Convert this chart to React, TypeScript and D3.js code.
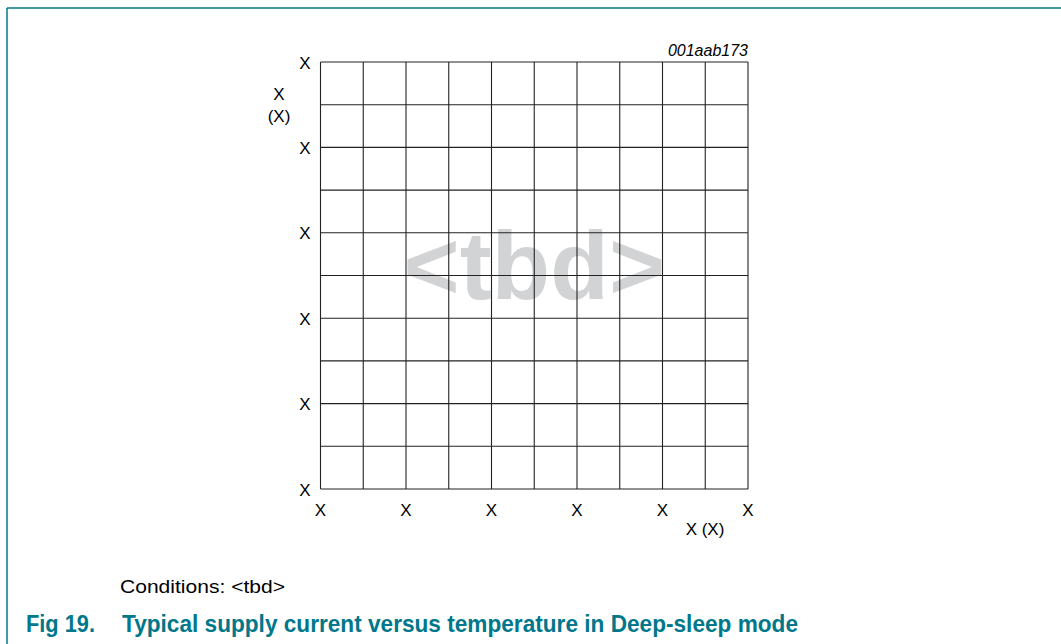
import React from "react";
import * as d3 from "d3";

// values are placeholders in the original (<tbd>) so only tick labels exist
const gridDivisions = [0, 1, 2, 3, 4, 5, 6, 7, 8, 9, 10];
const xTickValues = [0, 2, 4, 6, 8, 10];
const xTickLabels = ["X", "X", "X", "X", "X", "X"];
const yTickValues = [0, 2, 4, 6, 8, 10];
const yTickLabels = ["X", "X", "X", "X", "X", "X"];
const yTitle = ["X", "(X)"];
const xTitle = "X (X)";
const figId = "001aab173";
const watermark = "<tbd>";
const conditions = "Conditions: <tbd>";
const caption = ["Fig 19.", "Typical supply current versus temperature in Deep-sleep mode"];

const App = () => {
  const width = 1061;
  const height = 644;
  const teal = "#00778a";
  const font = "Arial, 'Liberation Sans', sans-serif";

  const x = d3.scaleLinear().domain([0, 10]).range([320.5, 748]);
  const y = d3.scaleLinear().domain([0, 10]).range([489, 62]);

  return (
    <svg
      width={width}
      height={height}
      style={{ position: "absolute", left: 0, top: 0, background: "#fff" }}
      fontFamily={font}
    >
      {/* frame */}
      <line x1={7} y1={8} x2={width} y2={8} stroke={teal} strokeWidth={1.5} />
      <line x1={7} y1={8} x2={7} y2={height} stroke={teal} strokeWidth={1.5} />

      {/* watermark under the grid */}
      <text
        x={(x(0) + x(10)) / 2}
        y={299}
        textAnchor="middle"
        fontSize={96}
        fontWeight="bold"
        fill="#d1d3d4"
      >
        {watermark}
      </text>

      {/* grid */}
      <g stroke="#222" strokeWidth={1.1}>
        {gridDivisions.map((d) => (
          <line key={"v" + d} x1={x(d)} x2={x(d)} y1={y(0)} y2={y(10)} />
        ))}
        {gridDivisions.map((d) => (
          <line key={"h" + d} x1={x(0)} x2={x(10)} y1={y(d)} y2={y(d)} />
        ))}
      </g>

      {/* y ticks */}
      <g fontSize={17} fill="#000" textAnchor="end">
        {yTickValues.map((v, i) => (
          <text key={i} x={x(0) - 10} y={y(v) + 6.5}>
            {yTickLabels[i]}
          </text>
        ))}
      </g>

      {/* x ticks */}
      <g fontSize={17} fill="#000" textAnchor="middle">
        {xTickValues.map((v, i) => (
          <text key={i} x={x(v)} y={y(0) + 27}>
            {xTickLabels[i]}
          </text>
        ))}
      </g>

      {/* axis titles */}
      <g fontSize={17} fill="#000" textAnchor="middle">
        {yTitle.map((t, i) => (
          <text key={i} x={279} y={99.5 + i * 22}>
            {t}
          </text>
        ))}
        <text x={705} y={535}>
          {xTitle}
        </text>
      </g>

      <text x={x(10)} y={56} textAnchor="end" fontSize={16} fontStyle="italic" fill="#000">
        {figId}
      </text>

      <text x={120} y={593} fontSize={19} fill="#000" textLength={165} lengthAdjust="spacingAndGlyphs">
        {conditions}
      </text>

      <g fontSize={23} fontWeight="bold" fill={teal}>
        <text x={26} y={632} textLength={69} lengthAdjust="spacingAndGlyphs">
          {caption[0]}
        </text>
        <text x={122} y={632} textLength={676} lengthAdjust="spacingAndGlyphs">
          {caption[1]}
        </text>
      </g>
    </svg>
  );
};

export default App;
